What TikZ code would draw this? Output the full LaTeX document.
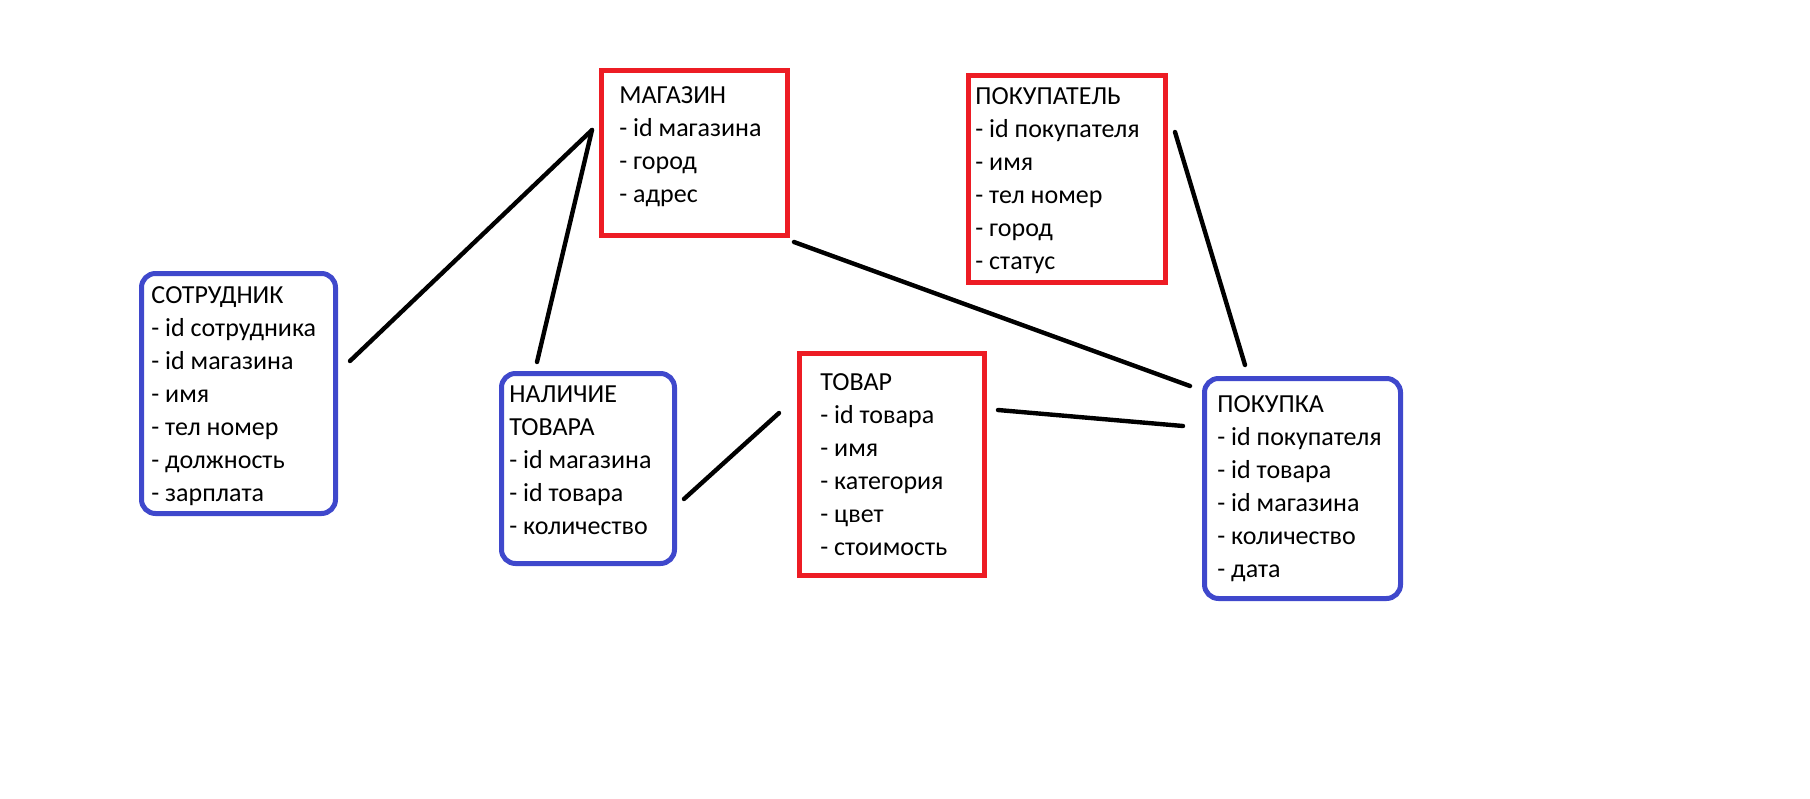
\documentclass[tikz,border=0pt]{standalone}
\usepackage{fontspec}
\setmainfont{Carlito}
\usepackage{tikz}
\usetikzlibrary{positioning}
\definecolor{tblred}{RGB}{237,28,36}
\definecolor{tblblue}{RGB}{63,72,204}

\begin{document}
\begin{tikzpicture}[x=0.5pt, y=-0.5pt,
  font=\fontsize{13}{16.5}\selectfont,
  entity/.style={draw, line width=2.5pt, inner sep=0pt, anchor=north west},
  strong/.style={entity, draw=tblred},
  weak/.style={entity, draw=tblblue, rounded corners=7pt},
  fields/.style={anchor=north west, align=left, inner sep=0pt},
  link/.style={line width=2.2pt, line cap=round}]
  \useasboundingbox (0,0) rectangle (1810,798);
  % tables
  \node[strong, minimum width=93pt, minimum height=82.5pt] (mag) at (599,68) {};
  \node[fields] (magT) at (619,86) {МАГАЗИН\\- id магазина\\- город\\- адрес};
  \node[strong, minimum width=98.5pt, minimum height=103.5pt] (pok) at (966,73) {};
  \node[fields] (pokT) at (975,87) {ПОКУПАТЕЛЬ\\- id покупателя\\- имя\\- тел номер\\- город\\- статус};
  \node[weak, minimum width=97pt, minimum height=120pt] (sotr) at (139,271) {};
  \node[fields] (sotrT) at (151,286) {СОТРУДНИК\\- id сотрудника\\- id магазина\\- имя\\- тел номер\\- должность\\- зарплата};
  \node[weak, minimum width=86.5pt, minimum height=95pt] (nal) at (499,371) {};
  \node[fields] (nalT) at (509,385) {НАЛИЧИЕ\\ТОВАРА\\- id магазина\\- id товара\\- количество};
  \node[strong, minimum width=92.5pt, minimum height=111pt] (tov) at (797,351) {};
  \node[fields] (tovT) at (820,373) {ТОВАР\\- id товара\\- имя\\- категория\\- цвет\\- стоимость};
  \node[weak, minimum width=98pt, minimum height=110pt] (zak) at (1202,376) {};
  \node[fields] (zakT) at (1217,395) {ПОКУПКА\\- id покупателя\\- id товара\\- id магазина\\- количество\\- дата};
  % line ends
  \coordinate (magW) at (592,130);
  \coordinate (sotrE) at (350,361);
  \coordinate (nalN) at (537,362);
  \coordinate (nalE) at (684,499);
  \coordinate (tovW) at (779,413);
  \coordinate (tovE) at (998,410);
  \coordinate (magS) at (794,242);
  \coordinate (pokE) at (1175,132);
  \coordinate (zakN) at (1245,365);
  \coordinate (zakNW) at (1190,386);
  \coordinate (zakW) at (1183,426);
  \draw[link] (sotrE) -- (magW);
  \draw[link] (nalN) -- (magW);
  \draw[link] (nalE) -- (tovW);
  \draw[link] (tovE) -- (zakW);
  \draw[link] (magS) -- (zakNW);
  \draw[link] (pokE) -- (zakN);
\end{tikzpicture}
\end{document}
